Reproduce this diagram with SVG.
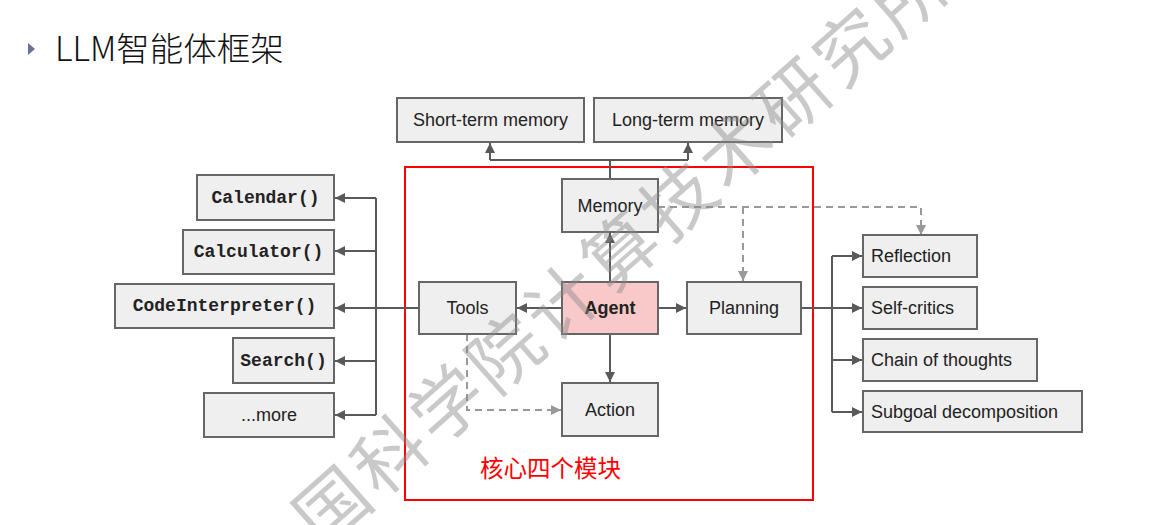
<svg xmlns="http://www.w3.org/2000/svg" width="1163" height="525" viewBox="0 0 1163 525">
<defs>
<style>
.box{fill:#efefef;stroke:#666;stroke-width:2}
.t{font-family:"Liberation Sans",Arial,sans-serif;font-size:18px;fill:#222;dominant-baseline:central}
.m{font-family:"Liberation Mono","Courier New",monospace;font-size:18px;font-weight:bold;fill:#222;text-anchor:middle;dominant-baseline:central}
.c{text-anchor:middle}
.ln{fill:none;stroke:#595959;stroke-width:2}
.ar{fill:none;stroke:#595959;stroke-width:2;marker-end:url(#ah)}
.da{fill:none;stroke:#999;stroke-width:2;stroke-dasharray:7,5;marker-end:url(#ahd)}
</style>
<marker id="ah" viewBox="0 0 10 10" refX="10" refY="5" markerWidth="10" markerHeight="10" markerUnits="userSpaceOnUse" orient="auto"><path d="M0,0 L10,5 L0,10 z" fill="#595959"/></marker>
<marker id="ahd" viewBox="0 0 10 10" refX="10" refY="5" markerWidth="10" markerHeight="10" markerUnits="userSpaceOnUse" orient="auto"><path d="M0,0 L10,5 L0,10 z" fill="#999"/></marker>
</defs>
<rect width="1163" height="525" fill="#fff"/>
<g id="title">
<path d="M28,43 L35,49 L28,55 z" fill="#6b7094"/>
<text x="55" y="61" font-family="'Noto Sans CJK SC',sans-serif" font-size="33.5" font-weight="300" fill="#111">LLM智能体框架</text>
</g>
<g id="core-frame">
<rect x="405" y="167" width="408" height="333" fill="none" stroke="#f00" stroke-width="2"/>
<text x="480" y="477" font-family="'Noto Sans CJK SC',sans-serif" font-size="23.5" fill="#f00">核心四个模块</text>
</g>
<g id="connectors">
<path class="ln" d="M610,179 V160 M490,160 H688"/>
<path class="ar" d="M490,160 V143"/>
<path class="ar" d="M688,160 V143"/>
<path class="ar" d="M610,282 V233"/>
<path class="ar" d="M562,308 H517"/>
<path class="ar" d="M658,308 H686"/>
<path class="ar" d="M610,334 V382"/>
<path class="ln" d="M376,198 V415"/>
<path class="ar" d="M419,308 H335"/>
<path class="ar" d="M376,198 H335"/>
<path class="ar" d="M376,251 H335"/>
<path class="ar" d="M376,361 H335"/>
<path class="ar" d="M376,415 H335"/>
<path class="ar" d="M801,308 H862"/>
<path class="ln" d="M832,256 V412"/>
<path class="ar" d="M832,256 H862"/>
<path class="ar" d="M832,360 H862"/>
<path class="ar" d="M832,412 H862"/>
<path class="da" d="M658,207 H921 V235"/>
<path class="da" d="M743,207 V281"/>
<path class="da" d="M467,334 V410 H561"/>
</g>
<g id="short-term-memory"><rect class="box" x="397" y="98" width="187" height="44"/><text class="t c" x="490.5" y="120">Short-term memory</text></g>
<g id="long-term-memory"><rect class="box" x="594" y="98" width="188" height="44"/><text class="t c" x="688" y="120">Long-term memory</text></g>
<g id="memory"><rect class="box" x="562" y="179" width="96" height="53"/><text class="t c" x="610" y="206">Memory</text></g>
<g id="agent"><rect x="562" y="282" width="96" height="52" fill="#f9c9c9" stroke="#666" stroke-width="2"/><text class="t c" x="610" y="308" font-weight="bold">Agent</text></g>
<g id="tools"><rect class="box" x="419" y="282" width="97" height="52"/><text class="t c" x="467.5" y="308">Tools</text></g>
<g id="planning"><rect class="box" x="687" y="282" width="114" height="52"/><text class="t c" x="744" y="308">Planning</text></g>
<g id="action"><rect class="box" x="562" y="383" width="96" height="53"/><text class="t c" x="610" y="410">Action</text></g>
<g id="calendar"><rect class="box" x="197" y="175" width="137" height="45"/><text class="m" x="265.5" y="198">Calendar()</text></g>
<g id="calculator"><rect class="box" x="183" y="230" width="151" height="44"/><text class="m" x="258.5" y="252">Calculator()</text></g>
<g id="codeinterpreter"><rect class="box" x="115" y="284" width="219" height="44"/><text class="m" x="224.5" y="306">CodeInterpreter()</text></g>
<g id="search"><rect class="box" x="233" y="338" width="101" height="45"/><text class="m" x="283.5" y="361">Search()</text></g>
<g id="more"><rect class="box" x="204" y="393" width="130" height="44"/><text class="t c" x="269" y="415">...more</text></g>
<g id="reflection"><rect class="box" x="863" y="235" width="114" height="42"/><text class="t" x="871" y="256">Reflection</text></g>
<g id="self-critics"><rect class="box" x="863" y="287" width="114" height="42"/><text class="t" x="871" y="308">Self-critics</text></g>
<g id="chain-of-thoughts"><rect class="box" x="863" y="339" width="174" height="42"/><text class="t" x="871" y="360">Chain of thoughts</text></g>
<g id="subgoal-decomposition"><rect class="box" x="863" y="391" width="219" height="41"/><text class="t" x="871" y="412">Subgoal decomposition</text></g>
<g id="watermark" opacity="0.45">
<text transform="translate(328,503) rotate(-41.5)" x="-35" y="0" dominant-baseline="central" font-family="'Noto Sans CJK SC',sans-serif" font-size="72" letter-spacing="5" fill="#8a8a8a">国科学院计算技术研究所</text>
</g>
</svg>
